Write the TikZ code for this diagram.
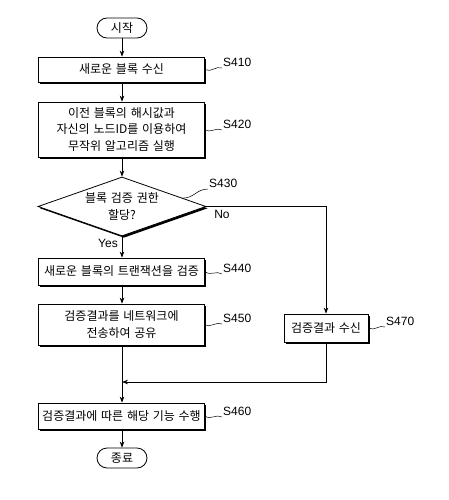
\documentclass[tikz,border=0pt]{standalone}
\usepackage{fontspec}
\setmainfont{Liberation Sans}
\newfontfamily\kr[WordSpace={1.4}]{Noto Sans CJK KR}
\usetikzlibrary{arrows.meta,shadows,shapes.geometric,calc}
\begin{document}
\begin{tikzpicture}[x=1pt,y=-1pt,
  every node/.style={inner sep=0pt},
  txt/.style={font=\kr\fontsize{12}{16.5}\selectfont, align=center},
  proc/.style={txt, draw, fill=white, line width=0.8pt, minimum width=166pt,
     drop shadow={shadow xshift=1.6pt, shadow yshift=-1.6pt, fill=black, opacity=1}},
  term/.style={txt, draw, fill=white, line width=0.8pt, rounded corners=10pt,
     minimum width=50pt, minimum height=20pt},
  dec/.style={txt, draw, fill=white, shape=diamond, line width=0.8pt, aspect=2.85,
     minimum width=168pt, minimum height=59pt,
     drop shadow={shadow xshift=1.8pt, shadow yshift=-1.8pt, fill=black, opacity=1}},
  lab/.style={font=\fontsize{12}{14}\selectfont, inner sep=1pt, anchor=south west},
  arr/.style={-{Stealth[length=6pt,width=4.5pt]}, line width=0.7pt},
  sq/.style={line width=0.5pt}
]
\useasboundingbox (0,0) rectangle (448,500);
\fill[white] (0,0) rectangle (448,500);

\node[term] (start) at (122,28) {시작};
\node[proc, minimum height=25pt] (b410) at (121.5,69.5) {새로운 블록 수신};
\node[proc, minimum height=55pt] (b420) at (121.5,129.5) {이전 블록의 해시값과\\자신의 노드ID를 이용하여\\무작위 알고리즘 실행};
\node[dec] (d430) at (122,206.5) {블록 검증 권한\\할당?};
\node[proc, minimum height=27pt] (b440) at (121.5,271.5) {새로운 블록의 트랜잭션을 검증};
\node[proc, minimum height=41pt] (b450) at (121.5,324.5) {검증결과를 네트워크에\\전송하여 공유};
\node[proc, minimum width=84pt, minimum height=28pt] (b470) at (326,328) {검증결과 수신};
\node[proc, minimum height=26pt] (b460) at (121.5,416) {검증결과에 따른 해당 기능 수행};
\node[term] (end) at (122,458) {종료};
\coordinate (m) at (122,382);

\node[lab] (s410) at (222,68) {S410};
\node[lab] (s420) at (222,130) {S420};
\node[lab] (s430) at (208,189) {S430};
\node[lab] (s440) at (222,274) {S440};
\node[lab] (s450) at (222,324) {S450};
\node[lab] (s470) at (385,327) {S470};
\node[lab] (s460) at (222,417) {S460};
\node[font=\fontsize{12}{14}\selectfont] (no) at (222,214) {No};
\node[font=\fontsize{12}{14}\selectfont] (yes) at (108,243) {Yes};

\draw[arr] (start.south) -- (b410.north -| start.south);
\draw[arr] (b410.south -| start.south) -- (b420.north -| start.south);
\draw[arr] (b420.south -| start.south) -- (d430.north);
\draw[arr] (d430.south) -- (b440.north -| d430.south);
\draw[arr] (b440.south -| d430.south) -- (b450.north -| d430.south);
\draw[arr] (b450.south -| d430.south) -- (b460.north -| d430.south);
\draw[arr] (d430.east) -| (b470.north);
\draw[arr] (b470.south) |- (m);
\draw[arr] (b460.south -| d430.south) -- (end.north);

\foreach \b/\s in {b410/s410, b420/s420, b440/s440, b450/s450, b470/s470, b460/s460}{
  \draw[sq] (\b.east) .. controls ($(\b.east)!0.35!(\s.south west)+(0,4)$) and ($(\b.east)!0.65!(\s.south west)+(0,-3)$) .. (\s.south west);
}
\coordinate (d430e) at ($(d430.north)!0.72!(d430.east)$);
\draw[sq] (d430e) .. controls ($(d430e)!0.35!(s430.south west)+(3,3)$) and ($(d430e)!0.65!(s430.south west)+(-3,-3)$) .. (s430.south west);
\end{tikzpicture}
\end{document}
